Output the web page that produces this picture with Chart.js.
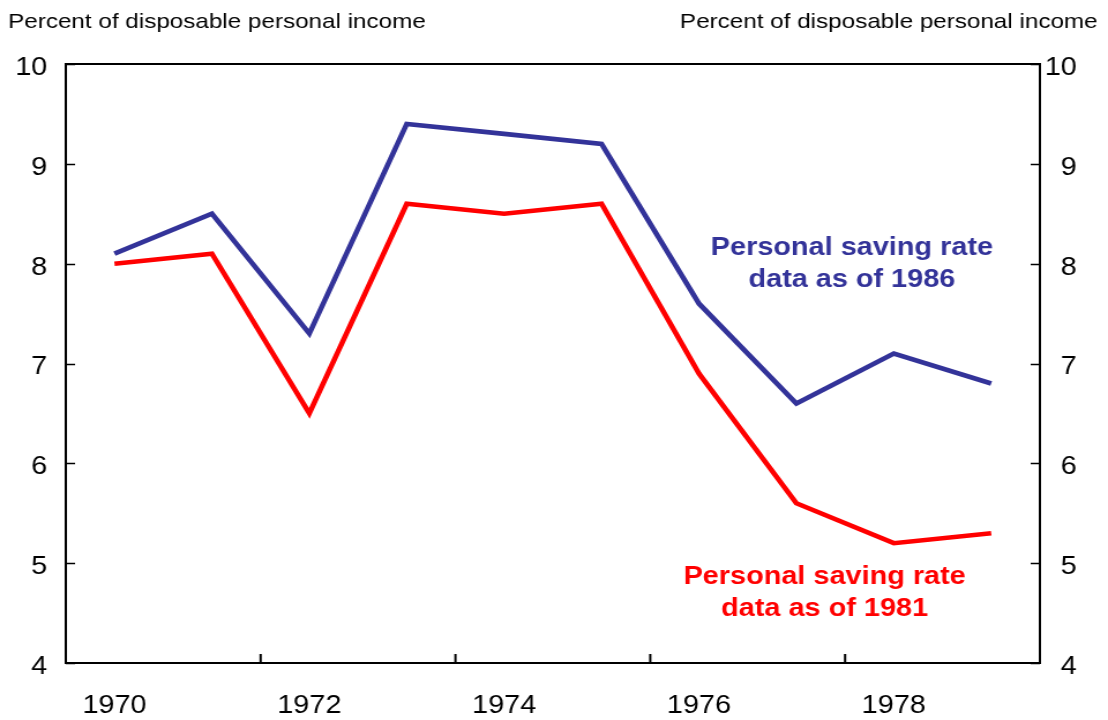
<!DOCTYPE html>
<html>
<head>
<meta charset="utf-8">
<script src="https://cdn.jsdelivr.net/npm/chart.js@4/dist/chart.umd.min.js"></script>
<style>
  html, body { margin: 0; padding: 0; background: #fff; }
</style>
</head>
<body>
<!-- the source picture is a 4:3 chart stretched to 1108 wide -->
<canvas id="chart" width="960" height="720" style="display:block;width:1108px;height:720px"></canvas>
<script>
// 数据
const years = ['1970', '1971', '1972', '1973', '1974', '1975', '1976', '1977', '1978', '1979']
const rate1986 = [8.1, 8.5, 7.3, 9.4, 9.3, 9.2, 7.6, 6.6, 7.1, 6.8]
const rate1981 = [8.0, 8.1, 6.5, 8.6, 8.5, 8.6, 6.9, 5.6, 5.2, 5.3]
const yTicks = [4, 5, 6, 7, 8, 9, 10]
const unitLabel = 'Percent of disposable personal income'
const label1986 = ['Personal saving rate', 'data as of 1986']
const label1981 = ['Personal saving rate', 'data as of 1981']

const BLUE = '#333399'
const RED = '#ff0000'
const FONT = '"Liberation Sans", Arial, sans-serif'

// 边框、向内刻度、标注文字
const framePlugin = {
  id: 'frame',
  afterDraw(chart) {
    const { ctx, chartArea: a, scales } = chart
    const x = scales.x
    const y = scales.y
    ctx.save()
    ctx.strokeStyle = '#000'
    ctx.lineWidth = 2
    ctx.strokeRect(a.left, a.top, a.right - a.left, a.bottom - a.top)

    // y 轴刻度（两侧，向内）
    ctx.lineWidth = 1.5
    yTicks.forEach(v => {
      const py = Math.round(y.getPixelForValue(v)) + 0.5
      ctx.beginPath()
      ctx.moveTo(a.left, py); ctx.lineTo(a.left + 8, py)
      ctx.moveTo(a.right, py); ctx.lineTo(a.right - 8, py)
      ctx.stroke()
    })

    // x 轴刻度：每两年一个，位于类别分界处
    ctx.lineWidth = 2
    for (let i = 1; i < years.length - 1; i += 2) {
      const px = x.getPixelForValue(i + 0.5)
      ctx.beginPath()
      ctx.moveTo(px, a.bottom); ctx.lineTo(px, a.bottom - 9)
      ctx.stroke()
    }

    // 单位标题
    ctx.fillStyle = '#000'
    ctx.font = `21px ${FONT}`
    ctx.textBaseline = 'alphabetic'
    ctx.textAlign = 'left'
    ctx.fillText(unitLabel, 7, 28)
    ctx.textAlign = 'right'
    ctx.fillText(unitLabel, 951, 28)

    // 系列标注
    ctx.font = `bold 25px ${FONT}`
    ctx.textAlign = 'center'
    const note = (lines, color, xi, yv) => {
      ctx.fillStyle = color
      const cx = x.getPixelForValue(xi)
      lines.forEach((t, k) => {
        ctx.fillText(t, cx, y.getPixelForValue(yv) + k * 32)
      })
    }
    note(label1986, BLUE, 7.57, 8.09)
    note(label1981, RED, 7.29, 4.79)
    ctx.restore()
  }
}

const tickFont = { family: FONT, size: 25 }

new Chart(document.getElementById('chart'), {
  type: 'line',
  data: {
    labels: years,
    datasets: [
      {
        label: 'data as of 1986',
        data: rate1986,
        borderColor: BLUE,
        borderWidth: 4.6,
        pointRadius: 0,
        tension: 0,
        borderJoinStyle: 'miter'
      },
      {
        label: 'data as of 1981',
        data: rate1981,
        borderColor: RED,
        borderWidth: 4.6,
        pointRadius: 0,
        tension: 0,
        borderJoinStyle: 'miter'
      }
    ]
  },
  options: {
    responsive: false,
    animation: false,
    events: [],
    layout: { padding: { top: 64, right: 27, bottom: 0, left: 0 } },
    plugins: {
      legend: { display: false },
      tooltip: { enabled: false }
    },
    scales: {
      x: {
        type: 'category',
        offset: true,
        grid: { display: false, drawTicks: false },
        border: { display: false },
        afterFit: (s) => { s.height = 57 },
        ticks: {
          autoSkip: false,
          maxRotation: 0,
          padding: 28,
          color: '#000',
          font: tickFont,
          callback: (v, i) => (i % 2 === 0 ? years[i] : '')
        }
      },
      y: {
        position: 'left',
        min: 4,
        max: 10,
        grid: { display: false, drawTicks: false },
        border: { display: false },
        afterFit: (s) => { s.width = 57 },
        ticks: { stepSize: 1, padding: 16, labelOffset: 4, color: '#000', font: tickFont, crossAlign: 'near' }
      },
      y2: {
        position: 'right',
        min: 4,
        max: 10,
        grid: { display: false, drawTicks: false },
        border: { display: false },
        afterFit: (s) => { s.width = 32 },
        ticks: { stepSize: 1, labelOffset: 4, color: '#000', font: tickFont, crossAlign: 'far' }
      }
    }
  },
  plugins: [framePlugin]
})
</script>
</body>
</html>
